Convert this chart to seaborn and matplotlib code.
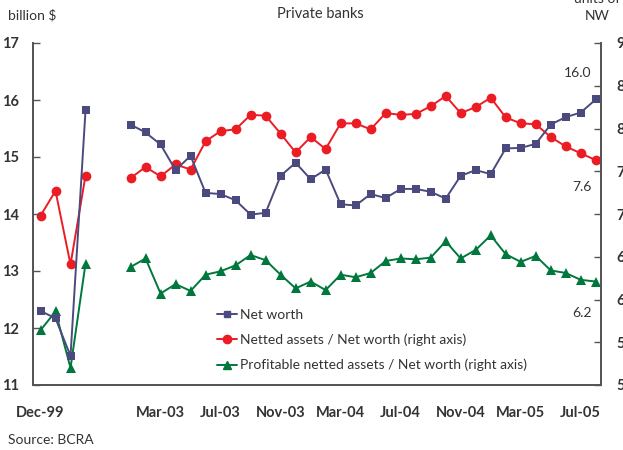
import pandas as pd
import numpy as np
import matplotlib
matplotlib.use("Agg")
import matplotlib.pyplot as plt
from matplotlib.lines import Line2D
import seaborn as sns

# periods: four year-ends, then monthly from Jan-03 to Aug-05
annual_periods = ["Dec-99", "Dec-00", "Dec-01", "Dec-02"]
monthly_periods = list(pd.date_range("2003-01-01", "2005-08-01", freq="MS").strftime("%b-%y"))
periods = annual_periods + monthly_periods

net_worth = [12.30, 12.17, 11.51, 15.82,
             15.57, 15.43, 15.22, 14.77, 15.02, 14.37, 14.35, 14.24, 13.99, 14.02, 14.67, 14.90,
             14.61, 14.78, 14.17, 14.15, 14.35, 14.28, 14.44, 14.44, 14.39, 14.27, 14.67, 14.77,
             14.70, 15.15, 15.16, 15.23, 15.57, 15.70, 15.78, 16.01]
netted_ratio = [6.98, 7.27, 6.41, 7.45,
                7.42, 7.55, 7.44, 7.58, 7.52, 7.85, 7.97, 7.99, 8.16, 8.15, 7.94, 7.72,
                7.90, 7.76, 8.06, 8.06, 7.99, 8.18, 8.16, 8.17, 8.26, 8.38, 8.18, 8.25,
                8.36, 8.13, 8.06, 8.05, 7.90, 7.79, 7.71, 7.63]
profitable_ratio = [5.64, 5.86, 5.20, 6.42,
                    6.38, 6.48, 6.07, 6.18, 6.10, 6.29, 6.33, 6.40, 6.52, 6.46, 6.29, 6.13,
                    6.21, 6.11, 6.29, 6.26, 6.31, 6.45, 6.48, 6.47, 6.49, 6.68, 6.48, 6.58,
                    6.75, 6.53, 6.44, 6.51, 6.34, 6.31, 6.23, 6.21]

label_periods = ["Dec-99", "", "Mar-03", "Jul-03", "Nov-03", "Mar-04", "Jul-04",
                 "Nov-04", "Mar-05", "Jul-05"]

# category slots: a two-slot gap between the annual and monthly segments
gap = 2
pos = [i if i < len(annual_periods) else i + gap for i in range(len(periods))]
seg = ["annual" if i < len(annual_periods) else "monthly" for i in range(len(periods))]
df = pd.DataFrame({"period": periods, "pos": pos, "seg": seg,
                   "net_worth": net_worth, "netted": netted_ratio,
                   "profitable": profitable_ratio})

c_nw = "#4b4a7e"
c_net = "#ec1c24"
c_pro = "#00773d"
axis_c = "#555555"
text_c = "#333333"

sns.set_style("white")
plt.rcParams["font.family"] = ["Lato", "DejaVu Sans"]

fig = plt.figure(figsize=(6.23, 4.5), dpi=100)
ax = fig.add_axes([33 / 623, 65 / 450, 568 / 623, 342 / 450])
ax2 = ax.twinx()

# right axis series
sns.lineplot(data=df, x="pos", y="netted", units="seg", estimator=None, ax=ax2,
             color=c_net, marker="o", markersize=7, markeredgewidth=0, linewidth=1.4)
sns.lineplot(data=df, x="pos", y="profitable", units="seg", estimator=None, ax=ax2,
             color=c_pro, marker="^", markersize=6.5, markeredgewidth=0, linewidth=1.4)
# left axis series
sns.lineplot(data=df, x="pos", y="net_worth", units="seg", estimator=None, ax=ax,
             color=c_nw, marker="s", markersize=5.5, markeredgewidth=0, linewidth=1.4)
ax.set_zorder(ax2.get_zorder() + 1)
ax.patch.set_visible(False)

ax.set_xlim(-0.5, 37.35)
ax.set_ylim(11, 17)
ax2.set_ylim(5, 9)
ax.set_yticks(np.arange(11, 18, 1))
ax2.set_yticks(np.arange(5, 9.01, 0.5))
ax2.set_yticklabels([f"{v:.1f}" for v in np.arange(5, 9.01, 0.5)])

# tick marks at slot boundaries, labels centred on their period
ax.set_xticks(np.arange(-0.5, 37, 4))
ax.set_xticklabels([])
ax.set_xticks(np.arange(0, 37, 4), minor=True)
ax.set_xticklabels(label_periods, minor=True)
ax.tick_params(axis="x", which="major", direction="in", length=5, width=1, color=axis_c)
ax.tick_params(axis="x", which="minor", length=0, pad=15, labelsize=10.5)
ax.tick_params(axis="y", direction="in", length=5, width=1, color=axis_c, pad=10,
               labelsize=10.5)
ax2.tick_params(axis="y", direction="in", length=5, width=1, color=axis_c, pad=11,
                labelsize=10.5)
for lab in ax.get_xticklabels(minor=True) + ax.get_yticklabels() + ax2.get_yticklabels():
    lab.set_fontweight("bold")
    lab.set_color(text_c)

for a in (ax, ax2):
    a.set_xlabel("")
    a.set_ylabel("")
    a.spines["top"].set_visible(False)
    for s in ("left", "bottom", "right"):
        a.spines[s].set_color(axis_c)
        a.spines[s].set_linewidth(1.3)

# end-of-series value labels
ax.annotate(f"{net_worth[-1]:.1f}", (pos[-1], net_worth[-1]), xytext=(-3, 19),
            textcoords="offset points", ha="right", va="center", fontsize=10, color=text_c)
ax2.annotate(f"{netted_ratio[-1]:.1f}", (pos[-1], netted_ratio[-1]), xytext=(-3, -19),
             textcoords="offset points", ha="right", va="center", fontsize=10, color=text_c)
ax2.annotate(f"{profitable_ratio[-1]:.1f}", (pos[-1], profitable_ratio[-1]), xytext=(-3, -23),
             textcoords="offset points", ha="right", va="center", fontsize=10, color=text_c)

handles = [
    Line2D([], [], color=c_nw, marker="s", markersize=5, linewidth=1.4),
    Line2D([], [], color=c_net, marker="o", markersize=6, linewidth=1.4),
    Line2D([], [], color=c_pro, marker="^", markersize=5.5, linewidth=1.4),
]
labels = ["Net worth", "Netted assets / Net worth (right axis)",
          "Profitable netted assets / Net worth (right axis)"]
for a in (ax, ax2):
    if a.get_legend() is not None:
        a.get_legend().remove()
ax.legend(handles, labels, loc="upper left", bbox_to_anchor=(178 / 568, 82 / 342),
          frameon=False, handlelength=1.45, handletextpad=0.25, labelspacing=0.93,
          fontsize=10, borderaxespad=0, labelcolor=text_c)

fig.text(320 / 623, 1 - 14 / 450, "Private banks", ha="center", va="center",
         fontsize=10.5, color=text_c)
fig.text(8 / 623, 1 - 15 / 450, "billion $", ha="left", va="center", fontsize=10,
         color=text_c)
fig.text(597 / 623, 1 + 1 / 450, "units of", ha="center", va="center", fontsize=10,
         color=text_c)
fig.text(597 / 623, 1 - 16 / 450, "NW", ha="center", va="center", fontsize=10,
         color=text_c)
fig.text(8 / 623, 1 - 440 / 450, "Source: BCRA", ha="left", va="center", fontsize=10,
         color=text_c)

fig.savefig("out.png", dpi=100)
